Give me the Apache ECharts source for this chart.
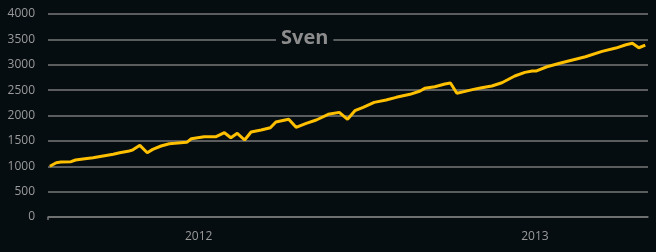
<!DOCTYPE html>
<html>
<head>
<meta charset="utf-8">
<script src="https://cdn.jsdelivr.net/npm/echarts@6/dist/echarts.min.js"></script>
<style>
html,body{margin:0;padding:0;background:#060d11;}
#c{width:656px;height:252px;}
</style>
</head>
<body>
<div id="c"></div>
<script>
var title = 'Sven';
var dates = [
'2011-07-23','2011-07-30','2011-08-04','2011-08-15','2011-08-20','2011-08-28','2011-09-08','2011-09-19',
'2011-09-30','2011-10-07','2011-10-16','2011-10-21','2011-10-29','2011-11-06','2011-11-12','2011-11-21',
'2011-11-30','2011-12-06','2011-12-19','2011-12-24','2012-01-07','2012-01-20','2012-01-29','2012-02-05',
'2012-02-12','2012-02-20','2012-02-27','2012-03-09','2012-03-19','2012-03-25','2012-04-08','2012-04-16',
'2012-04-27','2012-05-08','2012-05-21','2012-06-02','2012-06-11','2012-06-19','2012-06-28','2012-07-10',
'2012-07-23','2012-08-03','2012-08-18','2012-08-29','2012-09-03','2012-09-14','2012-09-25','2012-10-01',
'2012-10-08','2012-10-17','2012-10-26','2012-11-04','2012-11-15','2012-11-26','2012-12-10','2012-12-21',
'2012-12-29','2013-01-02','2013-01-14','2013-01-30','2013-02-25','2013-03-15','2013-03-30','2013-04-10',
'2013-04-17','2013-04-24','2013-05-01'
];
var values = [
1000,1070,1083,1090,1123,1143,1168,1202,
1235,1267,1294,1320,1412,1267,1333,1399,
1444,1452,1471,1542,1582,1582,1661,1562,
1649,1517,1675,1714,1760,1872,1925,1767,
1846,1911,2023,2062,1925,2094,2161,2259,
2305,2358,2417,2482,2535,2567,2620,2640,
2437,2476,2515,2547,2581,2646,2778,2850,
2876,2876,2961,3040,3158,3264,3329,3394,
3422,3335,3388
];
var xRange = ['2011-07-21','2013-05-04'];
var yearLabels = ['2012-01-01','2013-01-01'];

function ts(d){ return Date.parse(d + 'T00:00:00Z'); }

var chart = echarts.init(document.getElementById('c'), null, {renderer:'canvas'});
var data = dates.map(function(d,i){return [ts(d), values[i]];});
chart.setOption({
  backgroundColor:'#060d11',
  animation:false,
  title:{
    text:title,
    left:276, top:25,
    padding:[1,5,1,5],
    backgroundColor:'#060d11',
    textStyle:{color:'#8c8c8c', fontFamily:'Open Sans', fontWeight:'bold', fontSize:20, lineHeight:24}
  },
  grid:{left:48,right:8,top:14,bottom:35,containLabel:false},
  xAxis:{
    type:'value',
    min:ts(xRange[0]), max:ts(xRange[1]),
    axisLine:{show:true, onZero:false, lineStyle:{color:'#777', width:1.5}},
    axisTick:{show:true, length:3, lineStyle:{color:'#777', width:1.5}, customValues:[ts(xRange[0])]},
    splitLine:{show:false},
    axisLabel:{
      color:'#9a9a9a', fontFamily:'Open Sans', fontSize:12, margin:14,
      customValues: yearLabels.map(ts),
      formatter:function(v){return String(new Date(v).getUTCFullYear());}
    }
  },
  yAxis:{
    type:'value', min:0, max:4000, interval:500,
    axisLine:{show:false}, axisTick:{show:false},
    splitLine:{lineStyle:{color:'#777', width:1.5}},
    axisLabel:{color:'#9a9a9a', fontFamily:'Open Sans', fontSize:12, margin:13,
      formatter:function(v){return String(v);}}
  },
  series:[{
    type:'line', data:data, showSymbol:false, symbol:'none',
    lineStyle:{color:'#ffc000', width:3},
    z:3
  }]
});
</script>
</body>
</html>
